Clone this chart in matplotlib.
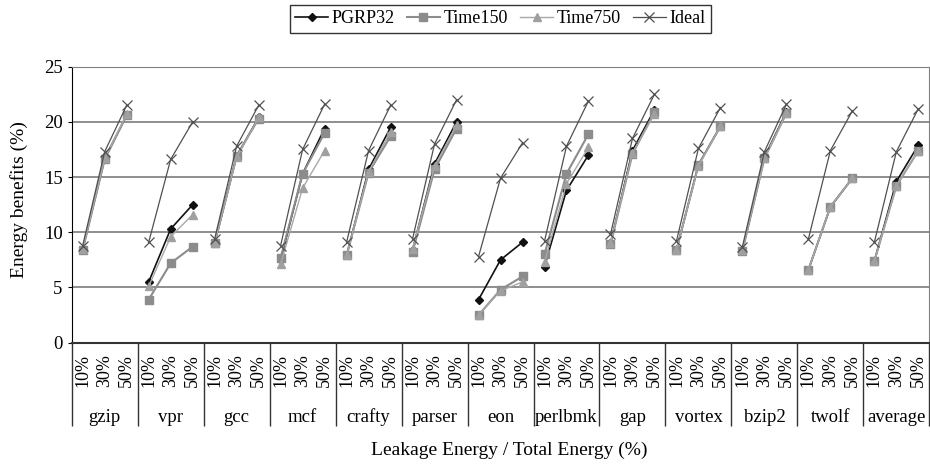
import matplotlib
matplotlib.use('Agg')
import matplotlib.pyplot as plt
from matplotlib.lines import Line2D

plt.rcParams['font.family'] = ['Liberation Serif', 'DejaVu Serif']

benchmarks = ['gzip', 'vpr', 'gcc', 'mcf', 'crafty', 'parser', 'eon',
              'perlbmk', 'gap', 'vortex', 'bzip2', 'twolf', 'average']
leak_levels = ['10%', '30%', '50%']

# three values per benchmark (10%, 30%, 50% leakage)
pgrp32 = [8.5, 16.7, 20.6,  5.5, 10.3, 12.5,  9.0, 16.9, 20.4,  7.5, 15.3, 19.4,
          7.9, 15.7, 19.5,  8.4, 16.2, 20.0,  3.9, 7.5, 9.1,  6.9, 13.8, 17.0,
          9.0, 17.4, 21.1,  8.4, 16.1, 19.6,  8.4, 16.8, 20.9,  6.6, 12.3, 14.9,
          7.4, 14.6, 17.9]
time150 = [8.4, 16.6, 20.6,  3.9, 7.2, 8.7,  9.0, 16.9, 20.3,  7.7, 15.3, 19.0,
           7.9, 15.4, 18.7,  8.2, 15.7, 19.4,  2.5, 4.8, 6.0,  8.0, 15.3, 18.9,
           8.9, 17.1, 20.9,  8.4, 16.1, 19.6,  8.3, 16.7, 20.8,  6.6, 12.3, 14.9,
           7.4, 14.2, 17.4]
time750 = [8.5, 16.7, 20.7,  5.1, 9.6, 11.6,  9.0, 16.8, 20.4,  7.1, 14.0, 17.4,
           7.9, 15.5, 19.1,  8.5, 16.0, 19.7,  2.5, 4.7, 5.5,  7.3, 14.4, 17.7,
           9.0, 17.2, 20.7,  8.4, 16.0, 19.6,  8.4, 16.7, 20.8,  6.6, 12.3, 14.9,
           7.4, 14.2, 17.4]
ideal = [8.8, 17.3, 21.5,  9.1, 16.6, 20.0,  9.4, 17.8, 21.5,  8.8, 17.5, 21.6,
         9.1, 17.4, 21.5,  9.4, 18.0, 22.0,  7.8, 14.9, 18.1,  9.2, 17.8, 21.9,
         9.8, 18.5, 22.5,  9.2, 17.6, 21.3,  8.7, 17.3, 21.6,  9.4, 17.4, 21.0,
         9.1, 17.3, 21.2]

series = [
    ('PGRP32', pgrp32, dict(color='#111111', marker='D', ms=4.5, lw=1.2, mec='#111111', mfc='#111111')),
    ('Time150', time150, dict(color='#8c8c8c', marker='s', ms=5.5, lw=1.5, mec='#8c8c8c', mfc='#8c8c8c')),
    ('Time750', time750, dict(color='#a8a8a8', marker='^', ms=6, lw=1.0, mec='#a0a0a0', mfc='#a0a0a0')),
    ('Ideal', ideal, dict(color='#505050', marker='x', ms=7, lw=0.9, mew=0.9)),
]

fig = plt.figure(figsize=(9.3, 4.66), dpi=100)
ax = fig.add_axes([0.0771, 0.2646, 0.9222, 0.5923])

n = len(benchmarks)
npts = len(leak_levels)
for name, vals, style in series:
    for g in range(n):
        xs = [g * npts + k + 0.5 for k in range(npts)]
        ax.plot(xs, vals[g * npts:(g + 1) * npts], **style)

ax.set_xlim(0, n * npts)
ax.set_ylim(0, 25)
ax.set_yticks([0, 5, 10, 15, 20, 25])
ax.yaxis.grid(True, color='#707070', lw=1.1)
ax.set_axisbelow(True)
ax.tick_params(axis='y', labelsize=13.5, length=3, color='black')

# group boundaries as long ticks, percentage labels as minor ticks
ax.set_xticks([g * npts for g in range(n + 1)])
ax.set_xticklabels([])
ax.tick_params(axis='x', which='major', length=60, width=1.0, color='#333333')
ax.set_xticks([i + 0.5 for i in range(n * npts)], minor=True)
ax.set_xticklabels(leak_levels * n, minor=True, rotation=90, fontsize=13)
ax.tick_params(axis='x', which='minor', length=0, pad=8)

for g, b in enumerate(benchmarks):
    ax.text(g * npts + npts / 2, -0.27, b, transform=ax.get_xaxis_transform(),
            ha='center', va='center', fontsize=13.5)

for side in ['top', 'right']:
    ax.spines[side].set_color('#808080')
ax.spines['left'].set_color('black')
ax.spines['bottom'].set_color('#333333')
ax.spines['bottom'].set_linewidth(1.5)

fig.text(0.548, 0.034, 'Leakage Energy / Total Energy (%)', ha='center', va='center', fontsize=14)
fig.text(0.021, 0.571, 'Energy benefits (%)', rotation=90, ha='center', va='center', fontsize=14)

handles = [Line2D([], [], **style) for _, _, style in series]
leg = fig.legend(handles, [s[0] for s in series], loc='center', bbox_to_anchor=(0.538, 0.960),
                 ncol=4, fontsize=13, frameon=True, fancybox=False, edgecolor='black',
                 handlelength=1.8, handletextpad=0.2, columnspacing=0.7, borderpad=0.3)
leg.get_frame().set_linewidth(1.0)

fig.savefig('out.png', dpi=100)
